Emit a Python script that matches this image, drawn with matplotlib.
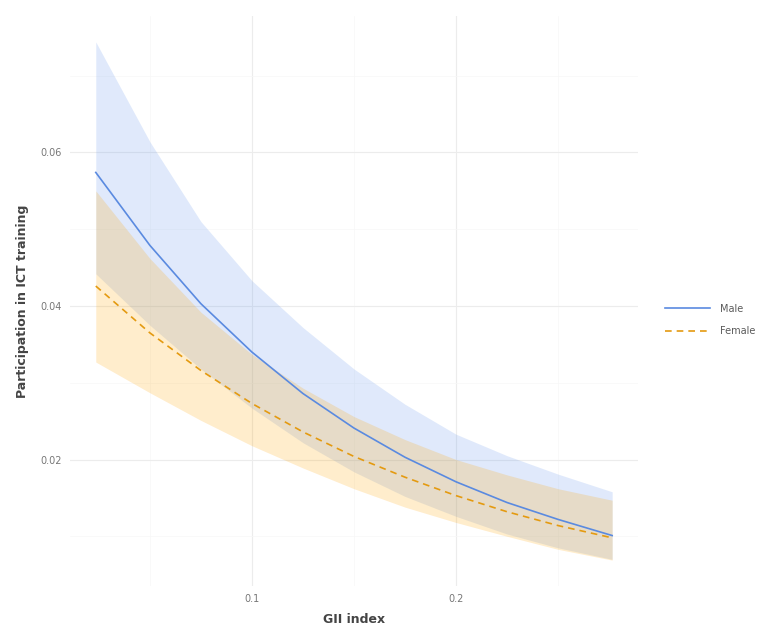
import matplotlib.pyplot as plt
import numpy as np

# predicted participation over the GII range, with 95% bands
gii = [0.0235, 0.05, 0.075, 0.1, 0.125, 0.15, 0.175, 0.2, 0.225, 0.25, 0.2765]

male_fit = [0.0574, 0.0479, 0.0403, 0.0340, 0.0286, 0.0241, 0.0203, 0.0171, 0.0144, 0.0122, 0.0101]
male_low = [0.0442, 0.0375, 0.0318, 0.0267, 0.0222, 0.0184, 0.0152, 0.0126, 0.0103, 0.0085, 0.0070]
male_high = [0.0744, 0.0614, 0.0510, 0.0433, 0.0372, 0.0318, 0.0272, 0.0233, 0.0205, 0.0181, 0.0158]

female_fit = [0.0426, 0.0365, 0.0316, 0.0273, 0.0236, 0.0204, 0.0177, 0.0153, 0.0132, 0.0114, 0.0098]
female_low = [0.0327, 0.0287, 0.0251, 0.0218, 0.0189, 0.0162, 0.0138, 0.0118, 0.0100, 0.0083, 0.0069]
female_high = [0.0550, 0.0462, 0.0392, 0.0337, 0.0293, 0.0256, 0.0226, 0.0200, 0.0180, 0.0162, 0.0147]

x_ticks = [0.1, 0.2]
y_ticks = [0.02, 0.04, 0.06]

blue = '#6495ED'
orange = '#FFA500'

fig = plt.figure(figsize=(7.68, 6.36), dpi=100)
ax = fig.add_axes([0.0911, 0.0786, 0.7396, 0.8962])

ax.fill_between(gii, male_low, male_high, color=blue, alpha=0.2, linewidth=0)
ax.plot(gii, male_fit, color='#5a8ae0', linewidth=1.2, label='Male')
ax.fill_between(gii, female_low, female_high, color=orange, alpha=0.2, linewidth=0)
ax.plot(gii, female_fit, color='#e49a10', linewidth=1.2, linestyle=(0, (4, 3)), label='Female')

# 5% padding on both axes, like ggplot's default expansion
xr = max(gii) - min(gii)
ax.set_xlim(min(gii) - 0.05 * xr, max(gii) + 0.05 * xr)
lo = min(min(male_low), min(female_low))
hi = max(max(male_high), max(female_high))
ax.set_ylim(lo - 0.05 * (hi - lo), hi + 0.05 * (hi - lo))

ax.set_xticks(x_ticks)
ax.set_xticklabels(['0.1', '0.2'])
ax.set_yticks(y_ticks)
ax.set_yticklabels(['0.02', '0.04', '0.06'])
ax.set_xticks([0.05, 0.15, 0.25], minor=True)
ax.set_yticks([0.01, 0.03, 0.05, 0.07], minor=True)

ax.grid(True, which='major', color='#ececec', linewidth=0.8)
ax.grid(True, which='minor', color='#f7f7f7', linewidth=0.5)
ax.set_axisbelow(True)
for s in ax.spines.values():
    s.set_visible(False)
ax.tick_params(which='both', length=0, labelsize=7, labelcolor='#777777', pad=6)

ax.set_xlabel('GII index', fontsize=9, fontweight='bold', color='#444444', labelpad=6)
ax.set_ylabel('Participation in ICT training', fontsize=9, fontweight='bold', color='#444444', labelpad=8)

fig.legend(loc='center left', bbox_to_anchor=(0.855, 0.497), frameon=False,
           fontsize=7, handlelength=4.6, labelspacing=1.3, handletextpad=1.0,
           labelcolor='#5a5a5a')

fig.savefig('out.png', dpi=100)
